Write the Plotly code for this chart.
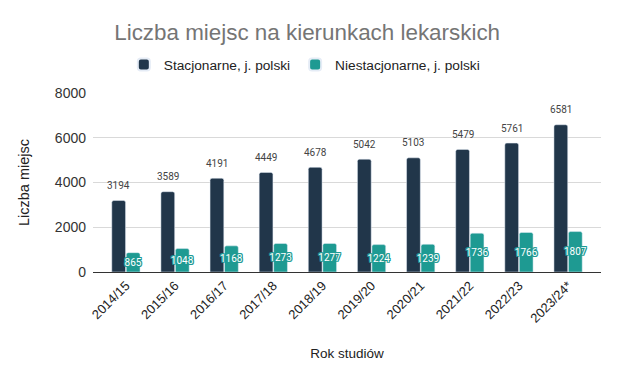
import plotly.graph_objects as go

years = ["2014/15", "2015/16", "2016/17", "2017/18", "2018/19", "2019/20",
         "2020/21", "2021/22", "2022/23", "2023/24*"]
stacjonarne = [3194, 3589, 4191, 4449, 4678, 5042, 5103, 5479, 5761, 6581]
niestacjonarne = [865, 1048, 1168, 1273, 1277, 1224, 1239, 1736, 1766, 1807]
y_ticks = [0, 2000, 4000, 6000, 8000]

NAVY = "#21364a"
TEAL = "#1e9a92"

BARGAP = 0.41
GROUPGAP = 0.05
X_RANGE = [-0.67, 9.67]
PLOT_W = 618 - 93 - 17

outline = ", ".join(f"{TEAL} {dx}px {dy}px 0px" for dx, dy in
                    [(1, 0), (-1, 0), (0, 1), (0, -1), (1, 1), (-1, -1), (1, -1), (-1, 1)])

fig = go.Figure()
fig.add_trace(go.Bar(
    x=years, y=stacjonarne, name="Stacjonarne, j. polski",
    marker=dict(color=NAVY, cornerradius=2),
))
fig.add_trace(go.Bar(
    x=years, y=niestacjonarne, name="Niestacjonarne, j. polski",
    marker=dict(color=TEAL, cornerradius=2),
    text=niestacjonarne, textposition="inside", insidetextanchor="middle",
    constraintext="none", textangle=0,
    textfont=dict(family="Roboto", size=10, color="white", shadow=outline),
))

# value labels above the dark bars (offset to the first bar of each group)
px_per_cat = PLOT_W / (X_RANGE[1] - X_RANGE[0])
slot = px_per_cat * (1 - BARGAP) / 2
for yr, v in zip(years, stacjonarne):
    fig.add_annotation(x=yr, y=v, text=str(v), showarrow=False,
                       xshift=-slot / 2, yshift=15, yanchor="middle",
                       font=dict(family="Roboto", size=10, color="#444444"))

fig.update_layout(
    width=618, height=378,
    paper_bgcolor="white", plot_bgcolor="white",
    margin=dict(l=93, r=17, t=93, b=106, autoexpand=False),
    barmode="group", bargap=BARGAP, bargroupgap=GROUPGAP,
    title=dict(text="Liczba miejsc na kierunkach lekarskich", x=0.497, xanchor="center",
               y=0.914, yanchor="middle",
               font=dict(family="Liberation Sans, Arial", size=22.4, color="#757575")),
    legend=dict(orientation="h", x=0.416, xanchor="center",
                yref="container", y=0.829, yanchor="middle",
                font=dict(family="Liberation Sans, Arial", size=13.7, color="#222222"),
                itemsizing="constant", traceorder="normal"),
    font=dict(family="Liberation Sans, Arial", color="#222222"),
    showlegend=True,
)
fig.update_xaxes(
    type="category", range=X_RANGE, tickangle=-45, automargin=False,
    tickfont=dict(size=13, color="#222222"),
    showline=True, linecolor="#333333", linewidth=1,
    title=dict(text="Rok studiów", font=dict(size=13.5, color="#222222"), standoff=23),
    showgrid=False,
)
fig.update_yaxes(
    range=[0, 8000], tickvals=y_ticks, automargin=False,
    tickfont=dict(size=14, color="#333333"), ticklabelstandoff=6,
    showgrid=True, gridcolor="#d9d9d9", zeroline=False,
    title=dict(text="Liczba miejsc", font=dict(size=14.5, color="#222222"), standoff=21),
)

fig.write_html("out.html", config={"displayModeBar": False},
               post_script="document.body.style.margin='0';")
